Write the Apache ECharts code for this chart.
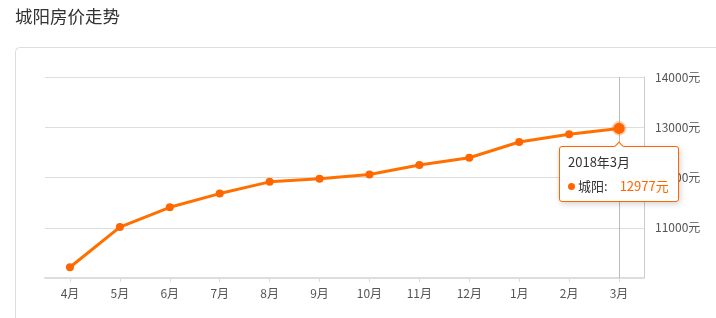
<!DOCTYPE html>
<html>
<head>
<meta charset="utf-8">
<script src="https://cdn.jsdelivr.net/npm/echarts@6/dist/echarts.min.js"></script>
<style>
html,body{margin:0;padding:0;background:#fff;}
#c{width:716px;height:318px;}
</style>
</head>
<body>
<div id="c"></div>
<script>
var titleText = '城阳房价走势';
var seriesName = '城阳';
var periods = ['2017年4月','2017年5月','2017年6月','2017年7月','2017年8月','2017年9月','2017年10月','2017年11月','2017年12月','2018年1月','2018年2月','2018年3月'];
var prices = [10214, 11013, 11407, 11680, 11913, 11975, 12060, 12247, 12393, 12707, 12860, 12977];
var yTicks = [10000, 11000, 12000, 13000, 14000];
var unit = '元';
var focusIndex = 11;

var FONT = '"Noto Sans CJK SC", "Noto Sans", sans-serif';
var ORANGE = '#ff6600';

var chart = echarts.init(document.getElementById('c'), null, {renderer: 'canvas'});
chart.setOption({
  animation: false,
  textStyle: {fontFamily: FONT},
  title: {
    text: titleText,
    left: 15, top: 8, padding: 0,
    textStyle: {fontSize: 17.5, fontWeight: 'normal', color: '#333', fontFamily: FONT}
  },
  graphic: [{
    type: 'rect', silent: true, z: -10,
    shape: {x: 15.5, y: 47.5, width: 900, height: 400, r: 4},
    style: {fill: 'none', stroke: '#ddd', lineWidth: 1}
  }],
  grid: {left: 45, right: 72, top: 77, bottom: 40, containLabel: false, outerBoundsMode: 'none'},
  tooltip: {
    trigger: 'item',
    triggerOn: 'none',
    alwaysShowContent: true,
    position: 'bottom',
    transitionDuration: 0,
    backgroundColor: '#fff',
    borderColor: ORANGE,
    borderWidth: 1,
    padding: [5, 9, 1, 8],
    extraCssText: 'border-radius:3px;box-shadow:1px 2px 6px rgba(0,0,0,0.18);',
    textStyle: {fontSize: 13, color: '#333', fontFamily: FONT},
    formatter: function (p) {
      return '<div style="line-height:20px;font-size:13px;color:#333;">' + periods[p.dataIndex] + '</div>' +
        '<div style="line-height:28px;font-size:13px;color:#333;white-space:nowrap;">' +
        '<span style="display:inline-block;width:7px;height:7px;border-radius:50%;background:' + ORANGE + ';margin-right:3px;vertical-align:1px;"></span>' +
        seriesName + ':' +
        '<span style="color:' + ORANGE + ';margin-left:12px;">' + p.value + unit + '</span></div>';
    }
  },
  xAxis: {
    type: 'category',
    boundaryGap: true,
    data: periods,
    axisLine: {show: true, lineStyle: {color: '#ddd', width: 2}},
    axisTick: {show: true, alignWithLabel: true, length: 4, lineStyle: {color: '#ddd'}},
    axisLabel: {
      margin: 9, fontSize: 12, color: '#555', fontFamily: FONT,
      formatter: function (v) { return v.split('年')[1]; }
    },
    splitLine: {show: false}
  },
  yAxis: {
    type: 'value',
    position: 'right',
    min: yTicks[0],
    max: yTicks[yTicks.length - 1],
    interval: yTicks[1] - yTicks[0],
    axisLine: {show: true, lineStyle: {color: '#ccc', width: 1}},
    axisTick: {show: false},
    axisLabel: {
      margin: 11, fontSize: 12, color: '#555', fontFamily: FONT,
      showMinLabel: false,
      formatter: function (v) { return v + unit; }
    },
    splitLine: {show: true, lineStyle: {color: '#ddd', width: 1}}
  },
  series: [{
    name: seriesName,
    type: 'line',
    data: prices,
    symbol: 'circle',
    symbolSize: 8,
    showAllSymbol: true,
    lineStyle: {color: ORANGE, width: 3},
    itemStyle: {color: ORANGE},
    emphasis: {
      scale: 1.4,
      itemStyle: {color: ORANGE, borderColor: 'rgba(255,102,0,0.3)', borderWidth: 3.5}
    },
    markLine: {
      silent: true,
      symbol: 'none',
      label: {show: false},
      lineStyle: {color: '#bbb', width: 1, type: 'solid'},
      emphasis: {disabled: true},
      data: [{xAxis: periods[focusIndex]}],
      z: 1
    },
    z: 3
  }]
});

function focusPoint() {
  chart.dispatchAction({type: 'highlight', seriesIndex: 0, dataIndex: focusIndex});
  chart.dispatchAction({type: 'showTip', seriesIndex: 0, dataIndex: focusIndex});
}
focusPoint();
setTimeout(focusPoint, 50);
</script>
</body>
</html>
